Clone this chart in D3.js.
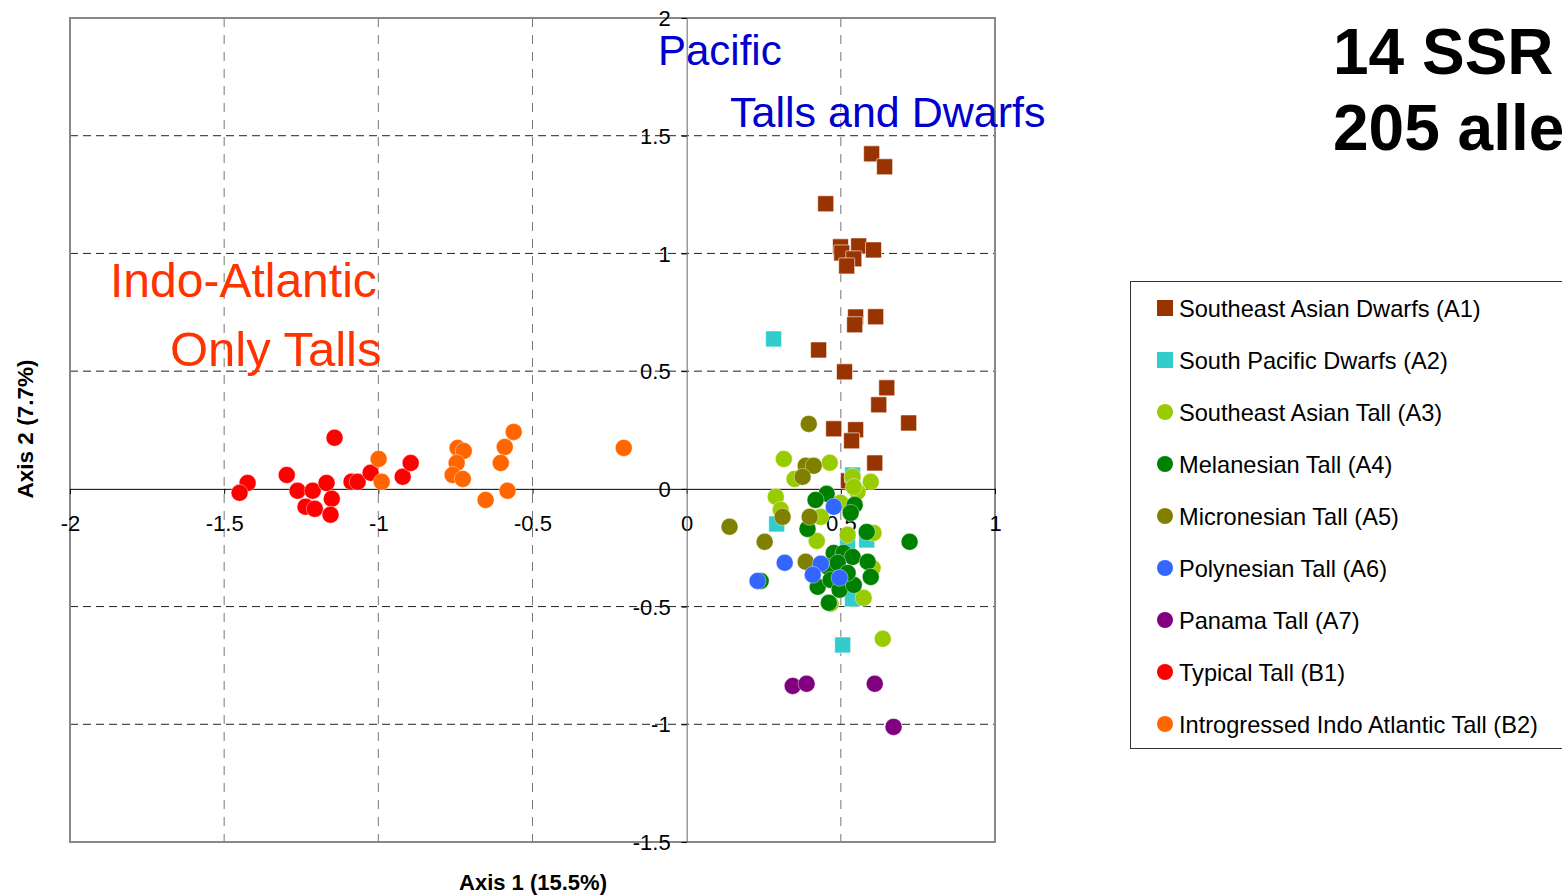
<!DOCTYPE html>
<html>
<head>
<meta charset="utf-8">
<script src="https://cdn.jsdelivr.net/npm/d3@7"></script>
<style>
  body { margin: 0; background: #fff; }
  svg { display: block; font-family: "Liberation Sans", Arial, sans-serif; }
</style>
</head>
<body>
<svg id="chart" width="1562" height="895"></svg>
<script>
// group names, colours and marker shapes
const groups = [
  'Southeast Asian Dwarfs (A1)', 'South Pacific Dwarfs (A2)', 'Southeast Asian Tall (A3)',
  'Melanesian Tall (A4)', 'Micronesian Tall (A5)', 'Polynesian Tall (A6)',
  'Panama Tall (A7)', 'Typical Tall (B1)', 'Introgressed Indo Atlantic Tall (B2)'
]
const colors = ['#993300', '#33cccc', '#99cc00', '#008000', '#808000', '#3366ff', '#800080', '#ff0000', '#ff6600']
const shapes = ['square', 'square', 'circle', 'circle', 'circle', 'circle', 'circle', 'circle', 'circle']

const xTicks = [-2, -1.5, -1, -0.5, 0, 0.5, 1]
const yTicks = [2, 1.5, 1, 0.5, 0, -0.5, -1, -1.5]

// [axis1, axis2] per group
const a1 = [[0.600, 1.423], [0.642, 1.368], [0.451, 1.211], [0.499, 1.028], [0.558, 1.032], [0.606, 1.015],
  [0.503, 1.002], [0.542, 0.977], [0.519, 0.947], [0.548, 0.730], [0.545, 0.697], [0.613, 0.731],
  [0.428, 0.590], [0.512, 0.497], [0.649, 0.429], [0.623, 0.357], [0.720, 0.280], [0.477, 0.255],
  [0.548, 0.251], [0.535, 0.204], [0.610, 0.110], [0.525, 0.034]]
const a2 = [[0.282, 0.637], [0.538, 0.059], [0.292, -0.149], [0.522, -0.229], [0.584, -0.217],
  [0.538, -0.467], [0.506, -0.663]]
const a3 = [[0.315, 0.127], [0.464, 0.111], [0.350, 0.042], [0.538, 0.051], [0.597, 0.030],
  [0.554, -0.013], [0.542, 0.008], [0.289, -0.034], [0.305, -0.089], [0.499, -0.059], [0.435, -0.119],
  [0.522, -0.195], [0.422, -0.221], [0.606, -0.187], [0.603, -0.336], [0.574, -0.463], [0.636, -0.637],
  [0.467, -0.488]]
const a4 = [[0.454, -0.021], [0.418, -0.047], [0.545, -0.068], [0.532, -0.102], [0.392, -0.170],
  [0.584, -0.183], [0.723, -0.225], [0.477, -0.272], [0.509, -0.272], [0.538, -0.289], [0.587, -0.310],
  [0.457, -0.331], [0.597, -0.374], [0.425, -0.416], [0.467, -0.387], [0.496, -0.429], [0.542, -0.408],
  [0.461, -0.484], [0.240, -0.391], [0.490, -0.314], [0.522, -0.357]]
const a5 = [[0.396, 0.276], [0.386, 0.098], [0.412, 0.098], [0.376, 0.051], [0.139, -0.161],
  [0.311, -0.119], [0.399, -0.119], [0.253, -0.225], [0.386, -0.310]]
const a6 = [[0.477, -0.076], [0.318, -0.314], [0.435, -0.318], [0.409, -0.365], [0.496, -0.378], [0.230, -0.391]]
const a7 = [[0.344, -0.837], [0.389, -0.828], [0.610, -0.828], [0.671, -1.011]]
const b1 = [[-1.142, 0.217], [-1.424, 0.025], [-1.450, -0.017], [-1.297, 0.059], [-1.262, -0.008],
  [-1.213, -0.008], [-1.168, 0.025], [-1.236, -0.076], [-1.206, -0.085], [-1.151, -0.042], [-1.155, -0.110],
  [-1.087, 0.030], [-1.067, 0.030], [-1.025, 0.068], [-0.921, 0.051], [-0.895, 0.110]]
const b2 = [[-0.999, 0.127], [-0.989, 0.030], [-0.743, 0.174], [-0.723, 0.161], [-0.746, 0.110],
  [-0.759, 0.059], [-0.726, 0.042], [-0.561, 0.242], [-0.590, 0.178], [-0.603, 0.110], [-0.581, -0.008],
  [-0.652, -0.047], [-0.204, 0.174]]
const series = [a1, a2, a3, a4, a5, a6, a7, b1, b2]

const svg = d3.select('#chart')
const x = d3.scaleLinear().domain([-2, 1]).range([70, 995])
const y = d3.scaleLinear().domain([-1.5, 2]).range([842, 18])

// plain hyphen for negatives, like the original
const fmt = d => String(d)

// grid lines
svg.append('g').selectAll('line')
  .data(xTicks.filter(d => d > -2 && d < 1 && d !== 0))
  .join('line')
  .attr('x1', d => x(d)).attr('x2', d => x(d))
  .attr('y1', y(2)).attr('y2', y(-1.5))
  .attr('stroke', '#777').attr('stroke-dasharray', '9,8')

svg.append('g').selectAll('line')
  .data(yTicks.filter(d => d < 2 && d > -1.5 && d !== 0))
  .join('line')
  .attr('x1', x(-2)).attr('x2', x(1))
  .attr('y1', d => y(d)).attr('y2', d => y(d))
  .attr('stroke', '#222').attr('stroke-dasharray', '8,5')

// plot border
svg.append('rect')
  .attr('x', x(-2)).attr('y', y(2))
  .attr('width', x(1) - x(-2)).attr('height', y(-1.5) - y(2))
  .attr('fill', 'none').attr('stroke', '#888').attr('stroke-width', 2)

// axes crossing at zero
const xAxis = d3.axisBottom(x).tickValues(xTicks).tickSize(5).tickFormat(fmt)
const yAxis = d3.axisLeft(y).tickValues(yTicks).tickSize(5).tickFormat(fmt)

const gx = svg.append('g').attr('transform', `translate(0,${y(0)})`).call(xAxis)
gx.select('.domain').attr('stroke', '#000')
gx.selectAll('.tick line').attr('stroke', '#000')
gx.selectAll('text').attr('font-size', 22).attr('fill', '#000').attr('dy', 0).attr('y', 42)
  .attr('font-family', '"Liberation Sans", Arial, sans-serif')

const gy = svg.append('g').attr('transform', `translate(${x(0)},0)`).call(yAxis)
gy.select('.domain').attr('stroke', '#666')
gy.selectAll('.tick line').attr('stroke', '#000')
gy.selectAll('text').attr('font-size', 22).attr('fill', '#000').attr('x', -16).attr('dy', '0.35em')
  .attr('font-family', '"Liberation Sans", Arial, sans-serif')

// points
const S = 16
series.forEach((pts, i) => {
  const g = svg.append('g')
  if (shapes[i] === 'square') {
    g.selectAll('rect').data(pts).join('rect')
      .attr('x', d => x(d[0]) - S / 2).attr('y', d => y(d[1]) - S / 2)
      .attr('width', S).attr('height', S).attr('rx', 1)
      .attr('fill', colors[i]).attr('stroke', '#fff').attr('stroke-opacity', 0.6).attr('stroke-width', 1)
  } else {
    g.selectAll('circle').data(pts).join('circle')
      .attr('cx', d => x(d[0])).attr('cy', d => y(d[1])).attr('r', 8.5)
      .attr('fill', colors[i]).attr('stroke', '#fff').attr('stroke-opacity', 0.5).attr('stroke-width', 0.8)
  }
})

// annotations
const note = (t, px, py, size, color, weight) => svg.append('text')
  .attr('x', px).attr('y', py).attr('font-size', size).attr('fill', color)
  .attr('font-weight', weight || 'normal').text(t)
note('Pacific', 658, 65, 42, '#0000cc')
note('Talls and Dwarfs', 730, 127, 43, '#0000cc')
note('Indo-Atlantic', 110, 297, 48, '#ff3300')
note('Only Talls', 170, 366, 49, '#ff3300')
note('14 SSR', 1333, 74, 64, '#000', 'bold')
note('205 alle', 1333, 150, 64, '#000', 'bold')

// axis titles
svg.append('text').attr('x', 533).attr('y', 890).attr('text-anchor', 'middle')
  .attr('font-size', 22).attr('font-weight', 'bold').text('Axis 1 (15.5%)')
svg.append('text').attr('transform', 'translate(33,429) rotate(-90)').attr('text-anchor', 'middle')
  .attr('font-size', 22.5).attr('font-weight', 'bold').text('Axis 2 (7.7%)')

// legend
const lg = svg.append('g')
lg.append('rect').attr('x', 1130.5).attr('y', 281.5).attr('width', 440).attr('height', 467)
  .attr('fill', '#fff').attr('stroke', '#333').attr('stroke-width', 1)
const item = lg.selectAll('g.item').data(groups).join('g').attr('class', 'item')
  .attr('transform', (d, i) => `translate(1165,${308 + i * 52})`)
item.each(function (d, i) {
  const it = d3.select(this)
  if (shapes[i] === 'square') {
    it.append('rect').attr('x', -8).attr('y', -8).attr('width', 16).attr('height', 16).attr('fill', colors[i])
  } else {
    it.append('circle').attr('r', 8).attr('fill', colors[i])
  }
})
item.append('text').attr('x', 14).attr('dy', '0.36em').attr('font-size', 23.6).attr('fill', '#000').text(d => d)
</script>
</body>
</html>
